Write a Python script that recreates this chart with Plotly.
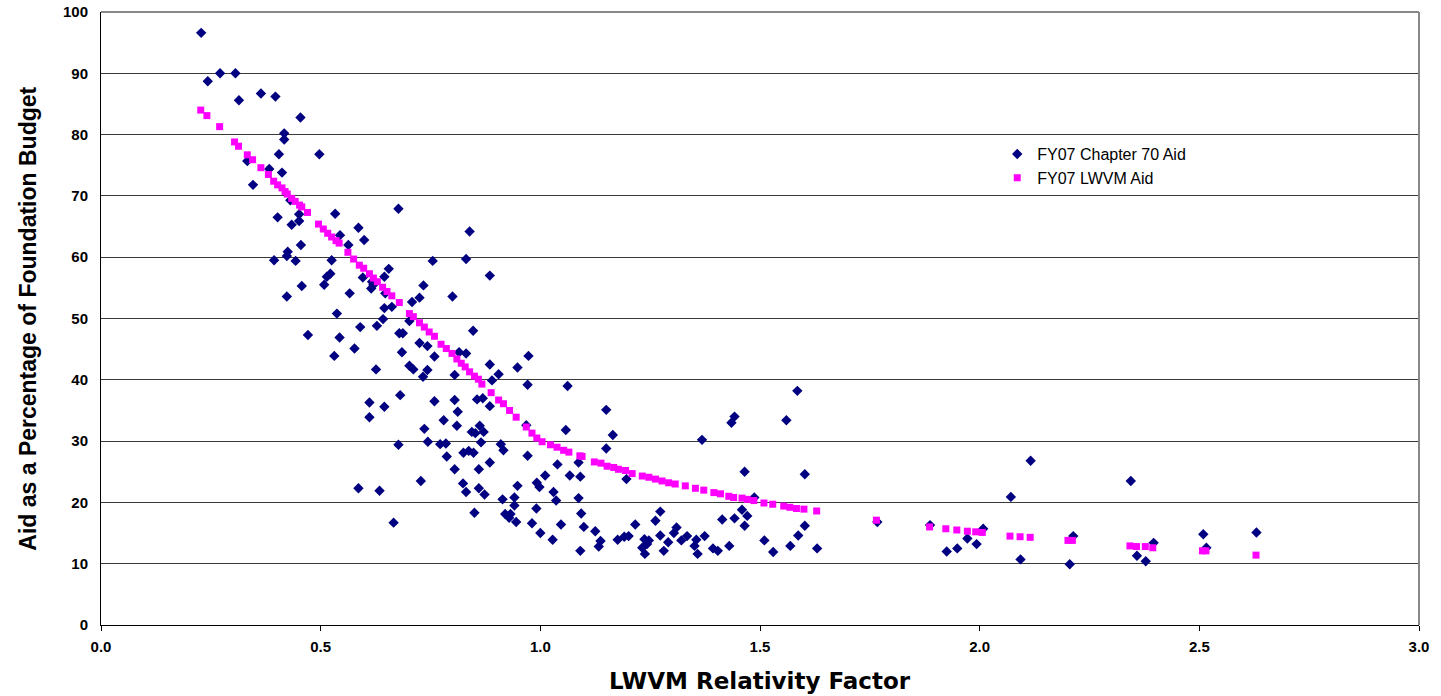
import plotly.graph_objects as go

# FY07 Chapter 70 Aid (blue diamonds)
ch70_x = [0.228, 0.271, 0.306, 0.243, 0.364, 0.397, 0.314, 0.454, 0.417, 0.417,
          0.405, 0.497, 0.333, 0.383, 0.412, 0.346, 0.431, 0.402, 0.451, 0.533,
          0.434, 0.451, 0.544, 0.586, 0.455, 0.563, 0.425, 0.423, 0.394, 0.443,
          0.525, 0.522, 0.514, 0.508, 0.457, 0.566, 0.423, 0.537, 0.590, 0.471,
          0.543, 0.577, 0.531, 0.677, 0.599, 0.839, 0.755, 0.831, 0.655, 0.596,
          0.645, 0.885, 0.617, 0.620, 0.615, 0.734, 0.647, 0.725, 0.800, 0.708,
          0.662, 0.645, 0.642, 0.702, 0.628, 0.679, 0.687, 0.725, 0.743, 0.685,
          0.759, 0.626, 0.702, 0.711, 0.743, 0.815, 0.831, 0.805, 0.885, 0.733,
          0.681, 0.611, 0.645, 0.759, 0.805, 0.856, 0.869, 0.885, 0.611, 0.812,
          0.780, 0.810, 0.862, 0.736, 0.844, 0.852, 0.871, 0.677, 0.744, 0.772,
          0.785, 0.865, 0.787, 0.825, 0.837, 0.848, 0.885, 0.805, 0.860, 0.728,
          0.824, 0.586, 0.634, 0.831, 0.860, 0.873, 0.850, 0.666, 0.847, 0.973,
          0.948, 0.905, 0.890, 0.971, 1.062, 1.150, 1.058, 1.165, 0.968, 0.910,
          0.916, 0.971, 1.150, 1.087, 1.039, 1.011, 1.067, 1.091, 1.196, 0.948,
          0.992, 0.998, 1.030, 1.036, 1.087, 0.914, 0.941, 0.941, 0.991, 0.920,
          0.932, 0.929, 0.945, 0.981, 1.047, 1.093, 1.099, 1.000, 1.125, 1.028,
          1.137, 1.133, 1.176, 1.191, 1.091, 1.435, 1.442, 1.368, 1.465, 1.487,
          1.273, 1.262, 1.216, 1.310, 1.459, 1.471, 1.414, 1.442, 1.465, 1.201,
          1.273, 1.304, 1.334, 1.374, 1.237, 1.247, 1.243, 1.232, 1.238, 1.291,
          1.321, 1.281, 1.355, 1.351, 1.358, 1.393, 1.404, 1.430, 1.585, 1.560,
          1.602, 1.602, 1.587, 1.510, 1.569, 1.530, 1.630, 1.767, 2.116, 2.344,
          2.071, 1.887, 2.008, 1.972, 1.993, 1.949, 1.925, 2.093, 2.213, 2.205,
          2.396, 2.358, 2.378, 2.509, 2.516, 2.630]
ch70_y = [96.6, 90.0, 90.0, 88.7, 86.7, 86.2, 85.6, 82.8, 80.2, 79.2,
          76.8, 76.8, 75.7, 74.4, 73.8, 71.8, 69.3, 66.5, 67.0, 67.1,
          65.3, 65.9, 63.6, 64.8, 62.0, 62.0, 60.9, 60.2, 59.5, 59.4,
          59.5, 57.3, 56.8, 55.5, 55.3, 54.1, 53.6, 50.8, 48.6, 47.3,
          46.9, 45.1, 43.9, 67.9, 62.8, 64.2, 59.4, 59.7, 58.1, 56.7,
          56.8, 57.0, 56.0, 55.5, 54.9, 55.4, 54.1, 53.4, 53.6, 52.7,
          51.9, 51.7, 49.9, 49.6, 48.8, 47.6, 47.6, 46.0, 45.5, 44.5,
          43.8, 41.7, 42.3, 41.7, 41.6, 44.5, 44.3, 40.8, 42.5, 40.5,
          37.5, 36.3, 35.6, 36.5, 36.7, 36.8, 37.0, 35.7, 33.9, 34.8,
          33.4, 32.5, 32.5, 32.0, 31.5, 31.3, 31.5, 29.4, 29.9, 29.5,
          29.6, 29.8, 27.5, 28.1, 28.4, 28.1, 26.5, 25.4, 25.4, 23.5,
          23.1, 22.3, 21.9, 21.7, 22.3, 21.3, 18.3, 16.7, 48.0, 43.9,
          42.0, 40.9, 39.9, 39.2, 39.0, 35.1, 31.8, 31.0, 32.6, 29.5,
          28.5, 27.6, 28.8, 26.5, 26.2, 24.4, 24.4, 24.2, 23.8, 22.7,
          23.2, 22.5, 21.7, 20.3, 20.7, 20.5, 20.8, 19.5, 19.0, 18.1,
          18.1, 17.5, 16.8, 16.6, 16.4, 18.2, 16.0, 15.0, 15.3, 13.9,
          13.7, 12.8, 13.9, 14.4, 12.1, 33.0, 34.0, 30.2, 25.0, 20.8,
          18.5, 17.0, 16.4, 15.9, 18.8, 17.8, 17.2, 17.4, 16.2, 14.5,
          14.6, 15.0, 14.5, 14.5, 14.0, 13.8, 13.2, 12.6, 11.6, 13.5,
          13.8, 12.1, 13.9, 12.9, 11.6, 12.5, 12.1, 12.9, 38.2, 33.4,
          24.6, 16.2, 14.6, 13.8, 12.9, 11.9, 12.5, 16.8, 26.8, 23.5,
          20.9, 16.3, 15.7, 14.1, 13.2, 12.5, 12.0, 10.7, 14.5, 9.9,
          13.4, 11.3, 10.4, 14.8, 12.6, 15.1]

# FY07 LWVM Aid (magenta squares)
lwvm_x = [0.227, 0.241, 0.270, 0.304, 0.313, 0.333, 0.345, 0.364, 0.381, 0.393,
          0.402, 0.412, 0.419, 0.424, 0.434, 0.442, 0.452, 0.457, 0.470, 0.495,
          0.506, 0.516, 0.525, 0.535, 0.542, 0.562, 0.575, 0.588, 0.598, 0.611,
          0.620, 0.629, 0.641, 0.651, 0.662, 0.679, 0.702, 0.711, 0.725, 0.736,
          0.747, 0.759, 0.774, 0.786, 0.799, 0.810, 0.820, 0.829, 0.839, 0.850,
          0.859, 0.867, 0.888, 0.905, 0.916, 0.930, 0.945, 0.968, 0.981, 0.992,
          1.004, 1.023, 1.038, 1.053, 1.065, 1.090, 1.095, 1.123, 1.138, 1.152,
          1.167, 1.178, 1.194, 1.209, 1.232, 1.247, 1.262, 1.277, 1.292, 1.307,
          1.330, 1.353, 1.372, 1.395, 1.410, 1.429, 1.440, 1.459, 1.471, 1.486,
          1.509, 1.529, 1.554, 1.568, 1.583, 1.600, 1.629, 1.765, 1.886, 1.923,
          1.948, 1.972, 1.991, 2.006, 2.069, 2.092, 2.115, 2.201, 2.211, 2.342,
          2.357, 2.377, 2.394, 2.507, 2.515, 2.629]
lwvm_y = [84.0, 83.1, 81.3, 78.8, 78.1, 76.7, 75.9, 74.6, 73.5, 72.4,
          71.8, 71.3, 70.7, 70.3, 69.6, 69.1, 68.5, 68.2, 67.3, 65.4,
          64.6, 63.9, 63.3, 62.7, 62.3, 60.8, 59.7, 58.7, 58.2, 57.3,
          56.6, 56.0, 55.1, 54.4, 53.7, 52.6, 50.8, 50.3, 49.3, 48.6,
          47.8, 47.1, 45.8, 45.1, 44.3, 43.4, 42.7, 42.1, 41.3, 40.6,
          40.1, 39.3, 37.9, 36.7, 36.1, 35.0, 33.9, 32.3, 31.3, 30.5,
          29.9, 29.4, 29.0, 28.5, 28.2, 27.6, 27.5, 26.6, 26.4, 25.9,
          25.7, 25.4, 25.2, 24.7, 24.3, 24.1, 23.8, 23.5, 23.2, 23.0,
          22.7, 22.3, 22.0, 21.6, 21.4, 21.0, 20.8, 20.7, 20.5, 20.3,
          19.9, 19.7, 19.4, 19.2, 19.0, 18.9, 18.6, 17.1, 16.0, 15.7,
          15.5, 15.3, 15.2, 15.1, 14.5, 14.4, 14.3, 13.8, 13.8, 12.9,
          12.8, 12.8, 12.6, 12.1, 12.1, 11.4]

x_ticks = [0.0, 0.5, 1.0, 1.5, 2.0, 2.5, 3.0]
x_tick_labels = ["0.0", "0.5", "1.0", "1.5", "2.0", "2.5", "3.0"]
y_ticks = [0, 10, 20, 30, 40, 50, 60, 70, 80, 90, 100]

FONT = "Liberation Sans, Arial, sans-serif"
WIDE = "DejaVu Sans, Liberation Sans, sans-serif"

fig = go.Figure()
fig.add_trace(go.Scatter(
    x=ch70_x, y=ch70_y, mode="markers", name="FY07 Chapter 70 Aid",
    marker=dict(symbol="diamond", size=8, color="#000080", line=dict(width=0)),
))
fig.add_trace(go.Scatter(
    x=lwvm_x, y=lwvm_y, mode="markers", name="FY07 LWVM Aid",
    marker=dict(symbol="square", size=7, color="#FF00FF", line=dict(width=0)),
))

fig.update_layout(
    width=1441, height=696,
    margin=dict(l=101, r=22, t=12, b=71, autoexpand=False),
    paper_bgcolor="white", plot_bgcolor="white",
    font=dict(family=FONT, color="black"),
    showlegend=True,
    legend=dict(
        x=0.68, y=0.796, xanchor="left", yanchor="top",
        bgcolor="rgba(0,0,0,0)", font=dict(size=16, family=FONT),
        itemsizing="trace", tracegroupgap=0, itemwidth=30,
    ),
    xaxis=dict(
        range=[0, 3.0], tickvals=x_ticks, ticktext=x_tick_labels,
        showgrid=False, zeroline=False, automargin=False,
        showline=True, linecolor="black", linewidth=1, mirror=False,
        ticks="outside", ticklen=5, tickcolor="black", ticklabelstandoff=3,
        tickfont=dict(size=15, family=FONT, weight="bold"),
    ),
    yaxis=dict(
        range=[0, 100], tickvals=y_ticks, automargin=False,
        showgrid=True, gridcolor="#3a3a3a", gridwidth=1, zeroline=False,
        showline=True, linecolor="black", linewidth=1,
        ticks="", ticklen=0, ticklabelstandoff=9,
        tickfont=dict(size=15, family=FONT, weight="bold"),
    ),
    annotations=[
        dict(text="<b>LWVM Relativity Factor</b>", xref="paper", yref="paper",
             x=0.5, y=-0.0914, xanchor="center", yanchor="middle", showarrow=False,
             font=dict(size=23, family=WIDE)),
        dict(text="<b>Aid as a Percentage of Foundation Budget</b>", xref="paper", yref="paper",
             x=-0.056, y=0.5, xanchor="center", yanchor="middle", showarrow=False,
             textangle=-90, font=dict(size=23, family=FONT)),
    ],
    shapes=[
        dict(type="line", xref="paper", yref="paper", x0=1, x1=1, y0=0, y1=1,
             line=dict(color="#888888", width=2)),
        dict(type="line", xref="paper", yref="paper", x0=0, x1=1, y0=1, y1=1,
             line=dict(color="#888888", width=2)),
    ],
)

# Remove the browser's default 8px body margin so the figure fills the window exactly.
fig.write_html("out.html",
               config={"displayModeBar": False},
               post_script="document.body.style.margin='0px';document.body.style.overflow='hidden';")
